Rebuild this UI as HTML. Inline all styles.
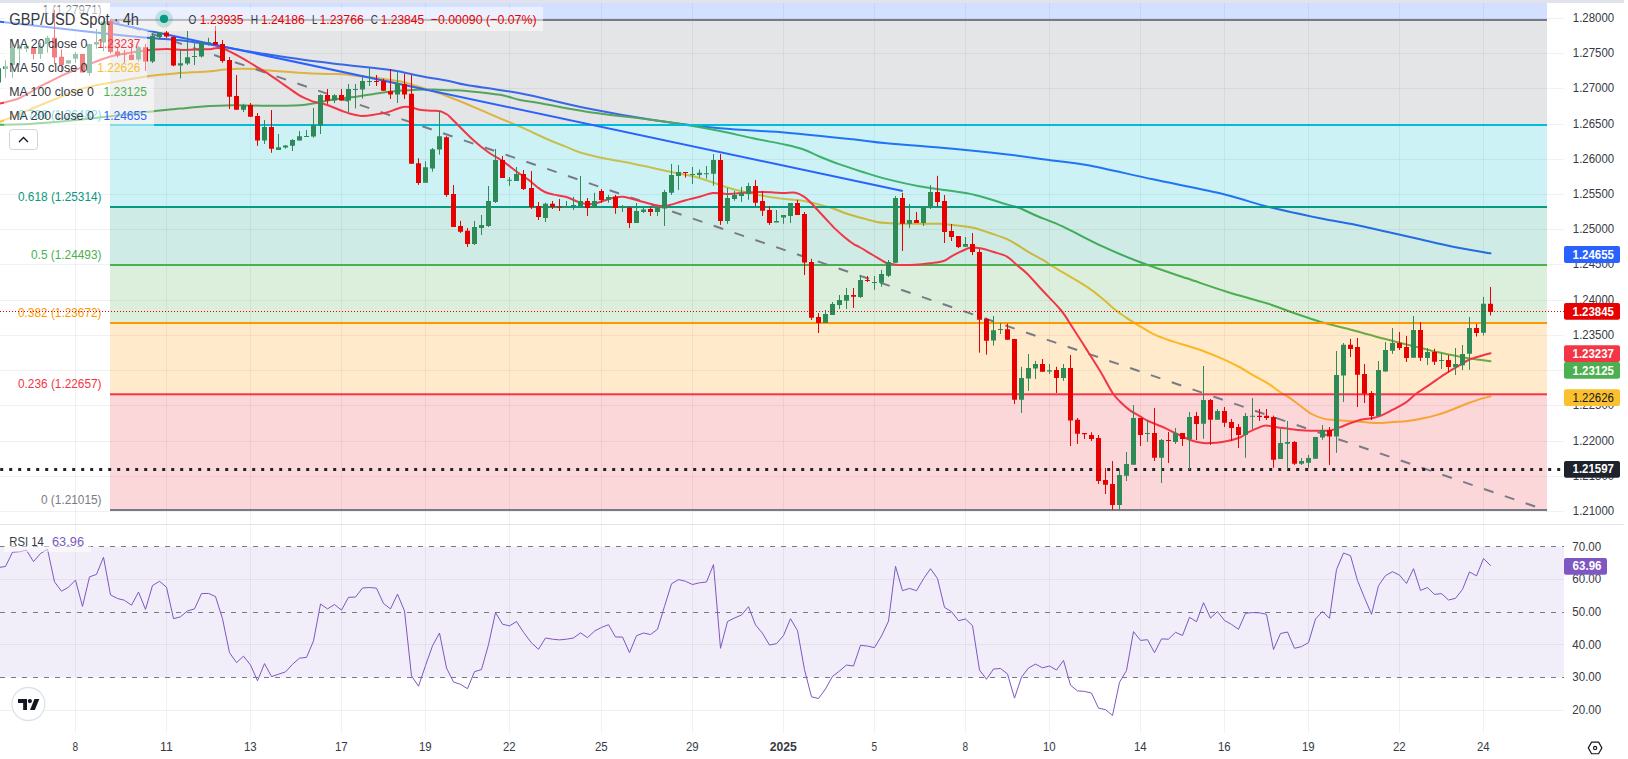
<!DOCTYPE html>
<html lang="en"><head><meta charset="utf-8"><title>GBP/USD Spot 4h</title>
<style>html,body{margin:0;padding:0;background:#fff}body{width:1628px;height:759px;overflow:hidden}svg{display:block}</style>
</head><body>
<svg width="1628" height="759" viewBox="0 0 1628 759" font-family='"Liberation Sans", Arial, sans-serif'>
<rect width="1628" height="759" fill="#fff"/>
<path d="M75.5 3V733 M166.5 3V733 M250.5 3V733 M341.5 3V733 M425.5 3V733 M509.5 3V733 M601.5 3V733 M692.5 3V733 M783.5 3V733 M874.5 3V733 M965.5 3V733 M1049.5 3V733 M1140.5 3V733 M1224.5 3V733 M1308.5 3V733 M1399.5 3V733 M1483.5 3V733 M0 18.5H1564 M0 53.5H1564 M0 88.5H1564 M0 124.5H1564 M0 159.5H1564 M0 194.5H1564 M0 229.5H1564 M0 264.5H1564 M0 300.5H1564 M0 335.5H1564 M0 370.5H1564 M0 405.5H1564 M0 441.5H1564 M0 476.5H1564 M0 511.5H1564 M0 579.5H1564 M0 644.5H1564 M0 710.5H1564" stroke="rgba(50,60,60,0.07)" stroke-width="1" fill="none"/>
<path d="M0.0 21.7C11.1 23.0 50.0 27.4 66.7 29.3C83.4 31.2 86.6 31.6 100.0 33.0C113.4 34.4 133.7 36.5 147.0 37.7C160.3 38.9 169.5 39.1 180.0 40.2C190.5 41.3 202.6 43.4 210.0 44.5C217.4 45.6 216.9 45.8 224.2 47.1C231.5 48.4 243.9 50.7 253.7 52.3C263.5 53.9 273.4 55.2 283.2 56.7C293.0 58.2 302.9 59.8 312.7 61.1C322.5 62.4 332.4 63.4 342.2 64.5C352.0 65.6 363.1 66.8 371.7 67.8C380.3 68.8 385.8 69.2 393.8 70.6C401.9 71.9 410.6 74.1 420.0 75.9C429.4 77.7 442.2 79.8 450.0 81.3C457.8 82.8 455.0 83.0 466.7 85.0C478.4 87.0 500.0 89.4 520.0 93.3C540.0 97.2 564.5 103.8 586.7 108.3C608.9 112.8 630.8 116.7 653.0 120.0C675.2 123.3 697.7 126.2 720.0 128.3C742.3 130.4 764.5 130.9 786.7 132.7C808.9 134.5 836.3 137.5 853.0 139.3C869.7 141.1 870.0 141.7 886.7 143.3C903.4 144.9 932.9 146.9 953.0 148.8C973.1 150.7 991.1 152.6 1007.6 154.5C1024.1 156.4 1038.7 158.8 1051.9 160.5C1065.1 162.2 1069.9 161.9 1086.7 165.0C1103.5 168.1 1130.8 174.6 1153.0 179.3C1175.2 184.0 1200.5 188.6 1220.0 193.3C1239.5 198.0 1253.3 203.1 1270.0 207.3C1286.7 211.5 1306.2 215.5 1320.0 218.3C1333.8 221.1 1341.9 222.1 1353.0 224.3C1364.1 226.5 1375.5 229.2 1386.7 231.7C1397.9 234.2 1409.0 236.8 1420.0 239.3C1431.0 241.8 1441.2 244.4 1453.0 246.7C1464.8 249.0 1484.2 252.2 1490.5 253.3" fill="none" stroke="#2962ff" stroke-width="2" stroke-linejoin="round" stroke-linecap="round"/>
<path d="M0.0 124.7C4.9 124.6 19.7 124.5 29.6 124.0C39.5 123.5 51.1 122.5 59.3 121.8C67.5 121.1 72.4 120.5 79.0 119.8C85.6 119.1 92.2 118.3 98.8 117.6C105.4 116.8 112.0 116.1 118.6 115.3C125.2 114.5 131.4 113.7 138.3 112.9C145.2 112.1 153.1 111.1 160.0 110.4C166.9 109.7 173.3 109.2 180.0 108.6C186.7 108.0 191.2 107.2 200.0 106.7C208.8 106.2 221.9 105.5 233.0 105.3C244.1 105.1 255.5 105.8 266.7 105.8C277.9 105.8 292.3 105.6 300.0 105.2C307.7 104.8 308.3 104.3 313.0 103.5C317.7 102.7 323.0 101.4 328.0 100.5C333.0 99.6 337.9 99.0 342.8 98.3C347.7 97.6 352.7 97.1 357.6 96.4C362.5 95.7 367.5 94.9 372.4 94.2C377.3 93.5 382.1 92.6 387.0 92.0C391.9 91.4 397.0 90.9 401.9 90.5C406.8 90.1 411.4 90.0 416.6 89.8C421.8 89.6 427.4 89.4 433.0 89.5C438.6 89.6 444.4 90.0 450.0 90.2C455.6 90.5 458.4 90.2 466.7 91.0C475.0 91.8 491.1 93.3 500.0 94.8C508.9 96.3 513.0 98.5 520.0 100.0C527.0 101.5 530.9 101.5 542.0 103.5C553.1 105.5 568.2 109.0 586.7 111.7C605.2 114.5 636.3 117.8 653.0 120.0C669.7 122.2 675.5 123.2 686.7 125.0C697.9 126.8 709.0 128.8 720.0 131.0C731.0 133.2 741.9 136.0 753.0 138.3C764.1 140.6 778.4 143.2 786.7 145.0C795.0 146.8 797.5 147.4 803.0 149.3C808.5 151.2 813.9 154.2 820.0 156.7C826.1 159.2 832.7 161.9 839.7 164.4C846.7 166.9 854.5 169.4 861.9 171.7C869.3 174.0 874.5 176.0 884.0 178.4C893.5 180.8 908.2 184.2 919.0 186.2C929.8 188.2 939.3 189.1 948.6 190.6C957.9 192.1 965.2 192.7 975.0 195.0C984.8 197.3 1000.1 202.4 1007.6 204.6C1015.1 206.8 1015.1 206.4 1020.0 208.3C1024.9 210.2 1029.8 212.9 1037.0 216.0C1044.2 219.1 1052.0 221.6 1063.0 226.7C1074.0 231.8 1089.7 240.6 1103.0 246.7C1116.3 252.8 1129.0 258.0 1143.0 263.3C1157.0 268.6 1172.8 273.6 1186.7 278.3C1200.7 283.0 1213.4 287.5 1226.7 291.7C1240.0 295.9 1255.7 299.8 1266.7 303.3C1277.8 306.8 1284.1 309.6 1293.0 312.7C1301.9 315.8 1310.5 318.9 1320.0 321.7C1329.5 324.5 1342.8 327.6 1350.0 329.5C1357.2 331.4 1358.3 331.7 1363.0 333.0C1367.7 334.3 1373.0 335.9 1378.0 337.2C1383.0 338.5 1387.9 339.7 1392.8 341.0C1397.7 342.3 1402.7 343.6 1407.6 344.8C1412.5 346.0 1417.1 347.1 1422.0 348.3C1426.9 349.5 1432.0 350.9 1437.0 352.0C1442.0 353.1 1447.0 354.0 1451.9 355.0C1456.8 356.0 1461.7 357.2 1466.6 358.0C1471.5 358.8 1477.4 359.4 1481.4 360.0C1485.4 360.6 1489.0 361.1 1490.5 361.3" fill="none" stroke="#4caf50" stroke-width="2" stroke-linejoin="round" stroke-linecap="round"/>
<path d="M0.0 121.8C3.3 120.5 13.2 116.6 19.8 113.9C26.4 111.2 32.9 108.2 39.5 105.5C46.1 102.8 52.7 100.2 59.3 97.5C65.9 94.8 72.4 91.7 79.0 89.6C85.6 87.5 92.2 86.1 98.8 84.7C105.4 83.3 112.0 82.4 118.6 81.2C125.2 80.0 131.4 78.9 138.3 77.8C145.2 76.7 153.9 75.5 160.0 74.8C166.1 74.1 169.7 73.8 175.0 73.4C180.3 73.0 186.1 72.7 191.9 72.3C197.7 71.9 204.5 71.8 210.0 71.3C215.5 70.8 219.9 70.0 224.8 69.6C229.7 69.2 234.6 68.8 239.5 68.7C244.4 68.6 249.4 68.7 254.3 69.0C259.2 69.3 261.6 70.0 269.0 70.6C276.4 71.2 288.8 72.2 298.6 72.8C308.4 73.4 320.6 73.8 328.0 74.0C335.4 74.2 337.9 74.0 342.8 74.3C347.7 74.6 352.7 75.5 357.6 76.0C362.5 76.5 367.5 76.9 372.4 77.5C377.3 78.1 382.1 78.7 387.0 79.4C391.9 80.1 397.0 80.6 401.9 81.7C406.8 82.8 411.7 84.5 416.6 86.0C421.5 87.5 426.5 88.9 431.4 90.5C436.3 92.1 440.1 93.5 446.0 95.7C451.9 98.0 457.7 100.2 466.7 104.0C475.7 107.8 491.1 114.5 500.0 118.3C508.9 122.1 511.8 123.1 520.0 126.7C528.2 130.3 541.6 136.7 549.2 140.0C556.8 143.3 560.3 144.5 565.5 146.6C570.7 148.7 574.1 150.6 580.2 152.5C586.4 154.4 595.0 156.4 602.4 158.0C609.8 159.6 617.1 160.6 624.5 162.0C631.9 163.4 639.0 165.0 646.6 166.6C654.2 168.2 662.4 170.1 670.0 171.7C677.6 173.3 684.7 174.2 692.0 176.0C699.3 177.8 707.8 180.8 714.0 182.8C720.2 184.8 724.0 186.5 729.0 188.0C734.0 189.5 738.9 190.5 743.8 191.7C748.7 192.8 753.7 193.9 758.6 194.9C763.5 195.9 768.1 196.9 773.0 197.6C777.9 198.3 783.0 198.8 788.0 199.3C793.0 199.8 797.9 200.0 802.8 200.8C807.7 201.6 812.7 203.0 817.6 204.2C822.5 205.4 827.1 206.4 832.0 208.0C836.9 209.6 842.0 212.1 847.0 213.8C852.0 215.5 857.0 216.7 861.9 218.0C866.8 219.3 872.0 221.0 876.6 221.9C881.2 222.8 885.6 222.9 889.5 223.2C893.4 223.5 895.1 223.6 900.0 223.7C904.9 223.8 912.2 223.8 919.0 223.8C925.8 223.8 934.7 223.5 941.0 223.8C947.3 224.1 951.8 224.9 957.0 225.5C962.2 226.1 966.5 226.2 972.0 227.5C977.5 228.8 984.1 231.0 990.0 233.0C995.9 235.0 1002.6 237.1 1007.6 239.4C1012.6 241.7 1016.3 244.4 1020.0 246.7C1023.7 248.9 1025.7 250.4 1030.0 252.9C1034.3 255.4 1042.2 259.5 1046.0 261.8C1049.8 264.1 1046.2 262.6 1053.0 266.7C1059.8 270.8 1078.2 281.1 1086.7 286.7C1095.2 292.2 1099.2 296.1 1104.0 300.0C1108.8 303.9 1111.9 307.1 1115.5 310.0C1119.1 312.9 1122.1 314.9 1125.8 317.4C1129.5 319.9 1133.2 322.1 1137.6 324.8C1142.0 327.5 1147.5 331.2 1152.4 333.6C1157.3 336.1 1162.1 337.7 1167.0 339.5C1171.9 341.3 1175.8 342.2 1181.9 344.2C1188.0 346.1 1196.6 348.6 1203.7 351.2C1210.8 353.8 1218.9 357.2 1224.8 359.8C1230.7 362.4 1234.5 364.4 1239.3 367.0C1244.1 369.6 1249.2 373.0 1253.8 375.6C1258.4 378.2 1262.6 380.1 1267.0 382.8C1271.4 385.5 1276.0 389.4 1280.0 392.0C1284.0 394.6 1287.4 396.4 1290.7 398.6C1294.0 400.9 1296.5 402.9 1300.0 405.5C1303.5 408.1 1307.8 411.8 1311.7 414.0C1315.6 416.2 1319.8 417.6 1323.5 418.6C1327.2 419.6 1329.6 419.6 1333.8 420.0C1338.0 420.4 1343.7 420.7 1348.6 421.0C1353.5 421.3 1358.1 421.7 1363.0 422.0C1367.9 422.3 1373.0 423.0 1378.0 423.0C1383.0 423.0 1387.9 422.3 1392.8 422.0C1397.7 421.7 1402.7 421.6 1407.6 421.0C1412.5 420.4 1417.1 419.6 1422.0 418.6C1426.9 417.6 1432.0 416.4 1437.0 414.9C1442.0 413.4 1447.0 411.5 1451.9 409.7C1456.8 407.9 1461.7 405.6 1466.6 403.8C1471.5 402.0 1477.4 399.8 1481.4 398.6C1485.4 397.4 1489.0 396.8 1490.5 396.4" fill="none" stroke="#fbc02d" stroke-width="2" stroke-linejoin="round" stroke-linecap="round"/>
<rect x="110" y="3" width="1437" height="17" fill="rgba(41,98,255,0.2)"/>
<rect x="110" y="20" width="1437" height="105" fill="rgba(120,123,134,0.2)"/>
<rect x="110" y="125" width="1437" height="82" fill="rgba(0,188,212,0.2)"/>
<rect x="110" y="207" width="1437" height="58" fill="rgba(8,153,129,0.2)"/>
<rect x="110" y="265" width="1437" height="58" fill="rgba(76,175,80,0.2)"/>
<rect x="110" y="323" width="1437" height="71.30000000000001" fill="rgba(255,152,0,0.2)"/>
<rect x="110" y="394.3" width="1437" height="115.69999999999999" fill="rgba(242,54,69,0.2)"/>
<rect x="110" y="19" width="1437" height="2" fill="#787b86"/>
<rect x="110" y="124" width="1437" height="2" fill="#00bcd4"/>
<rect x="110" y="206" width="1437" height="2" fill="#089981"/>
<rect x="110" y="264" width="1437" height="2" fill="#4caf50"/>
<rect x="110" y="322" width="1437" height="2" fill="#ff9800"/>
<rect x="110" y="393.3" width="1437" height="2" fill="#f23645"/>
<rect x="110" y="509" width="1437" height="2" fill="#787b86"/>
<line x1="110" y1="19.5" x2="1547" y2="510.5" stroke="#787b86" stroke-width="2" stroke-dasharray="10 12"/>
<text x="101.5" y="13.8" font-size="12" fill="#787b86" text-anchor="end" textLength="59.0" lengthAdjust="spacingAndGlyphs">1 (1.27971)</text>
<text x="101.5" y="119.0" font-size="12" fill="#00bcd4" text-anchor="end" textLength="83.5" lengthAdjust="spacingAndGlyphs">0.786 (1.26482)</text>
<text x="101.5" y="201.3" font-size="12" fill="#089981" text-anchor="end" textLength="83.5" lengthAdjust="spacingAndGlyphs">0.618 (1.25314)</text>
<text x="101.5" y="259.3" font-size="12" fill="#4caf50" text-anchor="end" textLength="70.5" lengthAdjust="spacingAndGlyphs">0.5 (1.24493)</text>
<text x="101.5" y="317.3" font-size="12" fill="#ff9800" text-anchor="end" textLength="83.5" lengthAdjust="spacingAndGlyphs">0.382 (1.23672)</text>
<text x="101.5" y="388.0" font-size="12" fill="#f23645" text-anchor="end" textLength="83.5" lengthAdjust="spacingAndGlyphs">0.236 (1.22657)</text>
<text x="101.5" y="504.1" font-size="12" fill="#787b86" text-anchor="end" textLength="60.5" lengthAdjust="spacingAndGlyphs">0 (1.21015)</text>
<line x1="110" y1="22.5" x2="902.8" y2="191" stroke="#2962ff" stroke-width="2" stroke-linecap="butt"/>
<path d="M0.0 103.5C1.7 103.1 6.7 101.9 10.0 101.0C13.3 100.1 16.5 99.4 19.8 98.0C23.1 96.6 26.7 94.4 30.0 92.5C33.3 90.6 36.2 88.5 39.5 86.7C42.8 84.9 46.7 83.2 50.0 81.5C53.3 79.8 56.0 78.4 59.3 76.8C62.6 75.2 66.7 73.4 70.0 72.0C73.3 70.6 75.7 69.7 79.0 68.4C82.3 67.1 86.5 65.4 90.0 64.0C93.5 62.6 95.5 61.5 100.0 60.0C104.5 58.5 109.5 56.5 116.7 55.0C123.9 53.5 134.7 51.7 143.0 50.7C151.3 49.7 160.0 49.1 166.7 49.0C173.4 48.9 177.4 50.0 183.0 50.0C188.6 50.0 195.5 49.4 200.0 49.3C204.5 49.2 207.1 49.4 210.0 49.2C212.9 49.0 214.9 48.0 217.4 48.0C219.9 48.0 221.1 47.8 224.8 49.2C228.5 50.6 234.6 53.9 239.5 56.6C244.4 59.3 249.4 62.5 254.3 65.4C259.2 68.4 264.1 71.1 269.0 74.3C273.9 77.5 278.9 81.2 283.8 84.6C288.7 88.0 294.9 92.6 298.6 94.9C302.3 97.2 303.6 97.5 306.0 98.6C308.4 99.7 310.9 100.9 313.3 101.6C315.8 102.3 318.2 102.4 320.7 103.0C323.1 103.6 325.5 104.4 328.0 105.3C330.5 106.2 333.0 107.2 335.5 108.2C338.0 109.2 340.4 110.3 342.8 111.2C345.2 112.1 347.7 113.1 350.2 113.8C352.7 114.5 355.6 114.9 357.6 115.3C359.6 115.7 359.5 116.0 362.0 115.9C364.5 115.8 368.2 115.5 372.4 114.9C376.6 114.3 383.3 113.3 387.0 112.4C390.7 111.5 392.0 110.6 394.5 109.7C397.0 108.8 399.9 107.7 401.9 107.2C403.9 106.7 404.6 106.8 406.3 106.8C408.0 106.8 410.0 107.0 412.2 107.5C414.4 108.0 416.4 109.2 419.6 109.7C422.8 110.2 427.9 110.5 431.4 110.7C434.8 111.0 437.9 110.7 440.3 111.2C442.7 111.8 444.4 113.0 446.0 114.0C447.6 115.0 445.5 112.7 450.0 117.0C454.5 121.3 466.8 134.1 473.2 140.0C479.6 145.9 483.9 149.1 488.7 152.5C493.5 155.9 497.3 157.5 502.0 160.7C506.7 163.9 512.4 168.5 516.8 171.7C521.2 174.9 525.2 177.3 528.6 179.9C532.0 182.5 534.7 185.2 537.4 187.2C540.1 189.2 542.1 190.8 544.8 192.0C547.5 193.2 550.2 193.8 553.7 194.6C557.2 195.4 561.3 195.6 565.5 196.8C569.7 198.0 575.0 200.8 578.7 202.0C582.4 203.2 584.6 204.0 587.6 204.2C590.6 204.4 593.5 203.9 596.5 203.2C599.5 202.5 602.3 201.1 605.3 200.2C608.2 199.3 611.2 198.2 614.2 197.6C617.2 197.0 620.0 196.6 623.0 196.8C626.0 197.0 628.4 197.8 631.9 198.7C635.4 199.6 639.3 200.8 643.7 202.0C648.1 203.2 654.8 205.1 658.5 205.7C662.2 206.3 663.9 205.8 665.8 205.7C667.7 205.6 666.8 205.9 670.0 205.0C673.2 204.1 679.9 201.9 684.8 200.5C689.7 199.1 694.8 198.1 699.5 196.8C704.2 195.6 707.9 193.5 712.8 193.0C717.7 192.5 723.8 193.9 729.0 193.9C734.2 193.9 738.9 193.1 743.8 192.8C748.7 192.5 753.7 192.1 758.6 192.0C763.5 191.9 768.8 192.2 773.0 192.4C777.2 192.6 780.0 192.9 783.7 193.0C787.5 193.1 792.1 192.2 795.5 192.8C798.9 193.4 801.6 195.0 804.3 196.8C807.0 198.6 809.5 201.3 811.7 203.5C813.9 205.7 815.4 207.6 817.6 210.0C819.8 212.4 822.1 214.9 825.0 218.0C827.9 221.1 831.8 225.5 835.0 228.6C838.2 231.7 840.9 234.1 844.0 236.7C847.1 239.3 850.9 242.3 853.5 244.0C856.1 245.7 856.2 245.2 859.4 247.0C862.6 248.8 868.3 252.4 872.7 255.0C877.1 257.6 882.6 261.3 886.0 262.8C889.4 264.3 890.8 263.8 893.3 264.2C895.8 264.6 897.0 264.9 900.7 265.0C904.4 265.1 910.6 265.0 915.5 264.7C920.4 264.4 925.5 263.8 930.2 263.2C934.9 262.6 939.8 262.2 943.5 261.0C947.2 259.8 949.4 257.4 952.4 255.8C955.4 254.2 958.2 252.8 961.2 251.4C964.2 250.0 967.5 248.1 970.7 247.6C973.9 247.1 976.6 247.6 980.4 248.3C984.2 249.0 989.3 250.6 993.7 252.0C998.1 253.4 1003.1 254.4 1007.0 256.6C1010.9 258.8 1014.0 262.6 1017.3 265.4C1020.6 268.2 1022.4 269.0 1026.7 273.3C1031.0 277.6 1037.3 284.9 1043.0 291.0C1048.7 297.1 1055.8 303.9 1060.8 310.0C1065.8 316.1 1068.5 321.3 1072.7 327.7C1076.9 334.1 1081.2 341.0 1085.9 348.4C1090.6 355.8 1096.3 364.6 1100.7 372.0C1105.1 379.4 1109.3 387.8 1112.5 392.7C1115.7 397.6 1117.0 398.6 1119.9 401.5C1122.8 404.4 1126.5 407.9 1130.0 410.4C1133.5 412.9 1137.6 414.8 1140.6 416.6C1143.6 418.4 1144.3 419.3 1148.0 421.0C1151.7 422.7 1157.9 424.8 1162.8 427.0C1167.7 429.2 1172.7 431.9 1177.6 434.2C1182.5 436.5 1188.0 439.2 1192.4 440.7C1196.8 442.2 1200.8 442.6 1204.0 443.0C1207.2 443.4 1208.5 443.2 1211.5 443.0C1214.5 442.8 1218.5 442.4 1221.9 441.9C1225.3 441.4 1228.8 440.8 1232.0 440.0C1235.2 439.2 1238.2 438.3 1241.0 437.0C1243.8 435.7 1245.5 433.8 1248.5 432.2C1251.5 430.6 1256.2 428.7 1259.0 427.6C1261.8 426.5 1262.9 425.5 1265.6 425.4C1268.2 425.3 1270.9 426.4 1274.9 427.0C1278.9 427.6 1284.7 428.3 1289.5 428.9C1294.3 429.5 1299.1 430.1 1304.0 430.4C1308.9 430.7 1314.5 430.8 1319.0 430.8C1323.5 430.8 1327.3 431.0 1330.8 430.4C1334.2 429.8 1336.2 428.7 1339.7 427.4C1343.2 426.1 1347.6 424.0 1351.5 422.7C1355.4 421.4 1359.9 420.0 1363.3 419.3C1366.7 418.6 1369.0 418.9 1372.0 418.3C1375.0 417.7 1377.5 417.0 1381.0 415.6C1384.5 414.2 1388.6 411.9 1392.8 409.7C1397.0 407.5 1402.0 405.0 1406.0 402.3C1410.0 399.6 1412.5 396.4 1416.5 393.5C1420.5 390.6 1425.0 387.8 1429.7 384.6C1434.4 381.4 1439.6 377.5 1444.5 374.3C1449.4 371.1 1455.1 367.9 1459.3 365.4C1463.5 362.9 1465.9 361.1 1469.6 359.5C1473.3 357.9 1477.9 356.8 1481.4 355.8C1484.9 354.8 1489.0 353.7 1490.5 353.3" fill="none" stroke="#f23645" stroke-width="2" stroke-linejoin="round" stroke-linecap="round"/>
<line x1="0.2" y1="469.5" x2="1564" y2="469.5" stroke="#1e222d" stroke-width="3" stroke-dasharray="3 6"/>
<path d="M-1.5 68.0V82.6M5.5 60.2V77.8M12.5 38.5V77.8M19.5 44.6V65.6M26.5 43.9V52.0M40.5 42.6V58.8M47.5 35.8V52.7M68.5 60.2V63.6M75.5 52.0V63.0M89.5 43.9V75.8M96.5 29.0V48.7M103.5 20.2V51.4M138.5 46.0V61.6M152.5 33.0V63.0M159.5 32.4V39.2M180.5 49.3V78.5M187.5 31.0V65.0M194.5 42.6V65.0M201.5 42.2V57.5M208.5 37.8V45.5M243.5 103.8V112.0M264.5 120.0V144.0M278.5 134.0V150.0M285.5 145.0V148.7M292.5 139.0V151.0M299.5 131.0V140.6M306.5 130.0V137.0M313.5 108.0V137.6M320.5 94.2V134.0M334.5 94.2V103.0M348.5 83.9V112.0M355.5 83.9V108.5M362.5 77.2V98.6M369.5 68.0V86.0M397.5 72.0V103.0M425.5 161.3V182.7M432.5 148.0V171.6M439.5 111.0V154.6M474.5 220.9V245.0M481.5 215.0V235.0M488.5 186.0V227.0M495.5 149.0V203.0M509.5 177.0V185.8M516.5 167.0V180.9M545.5 202.7V222.0M566.5 201.0V207.4M573.5 196.8V210.0M580.5 175.9V206.4M594.5 192.8V207.6M608.5 194.9V202.7M622.5 205.0V212.0M636.5 203.0V223.0M643.5 206.4V213.0M657.5 206.0V216.0M664.5 189.9V226.0M671.5 163.9V194.9M678.5 165.0V189.9M692.5 167.0V184.0M699.5 169.5V177.6M706.5 166.0V178.7M713.5 154.0V185.8M727.5 188.0V223.8M734.5 190.9V200.8M741.5 186.9V202.0M748.5 182.8V199.8M776.5 210.0V222.4M783.5 215.0V223.8M790.5 203.0V223.0M825.5 310.0V323.0M832.5 302.0V314.9M839.5 295.0V309.0M846.5 288.0V309.0M860.5 275.0V298.0M874.5 276.0V289.8M881.5 269.9V286.8M888.5 260.0V277.0M895.5 196.0V262.8M909.5 203.9V228.0M923.5 206.0V226.0M930.5 185.0V209.0M965.5 237.0V246.7M993.5 316.0V345.6M1000.5 323.0V334.0M1021.5 366.8V413.0M1028.5 354.0V390.9M1035.5 360.9V379.0M1049.5 364.0V373.8M1063.5 364.0V380.8M1119.5 469.0V510.5M1126.5 452.0V481.0M1133.5 405.0V464.8M1147.5 419.8V441.9M1161.5 439.0V483.0M1175.5 427.9V444.0M1189.5 411.9V470.0M1203.5 366.0V438.8M1217.5 409.0V419.8M1245.5 413.0V457.8M1252.5 398.0V429.0M1280.5 428.8V459.0M1287.5 421.0V469.0M1301.5 458.0V465.0M1308.5 454.9V467.9M1315.5 436.9V459.0M1322.5 425.0V439.9M1336.5 351.0V452.8M1343.5 343.0V402.0M1378.5 361.0V416.0M1385.5 342.0V371.8M1392.5 328.0V353.9M1413.5 316.0V357.8M1427.5 348.0V365.0M1441.5 353.0V369.0M1455.5 348.0V375.0M1462.5 345.0V370.0M1469.5 317.0V369.8M1483.5 296.9V335.5" stroke="#2e8b57" stroke-width="1" fill="none"/>
<path d="M33.5 48.0V59.5M54.5 10.0V64.3M61.5 49.3V72.4M82.5 54.1V72.4M110.5 19.5V53.4M117.5 46.6V57.5M124.5 50.0V63.0M131.5 43.9V60.2M145.5 43.9V71.0M166.5 31.0V37.8M173.5 36.5V66.3M215.5 26.0V44.7M222.5 40.0V62.8M229.5 57.0V109.0M236.5 75.0V109.7M250.5 103.0V116.8M257.5 113.0V145.8M271.5 110.0V152.8M327.5 89.0V103.8M341.5 89.0V100.8M376.5 75.0V86.0M383.5 78.7V90.8M390.5 69.0V99.0M404.5 73.8V99.0M411.5 75.0V163.8M418.5 158.3V184.9M446.5 136.2V196.8M453.5 185.0V227.0M460.5 220.9V233.0M467.5 228.0V247.0M502.5 156.0V178.0M523.5 170.0V190.0M531.5 171.0V209.0M538.5 202.0V220.0M552.5 201.0V209.0M559.5 199.0V211.0M587.5 198.0V216.0M601.5 189.0V202.7M615.5 194.9V213.8M629.5 206.7V228.0M650.5 206.7V216.0M685.5 172.0V177.6M720.5 154.0V224.9M755.5 179.9V206.0M762.5 190.9V216.0M769.5 206.0V224.9M797.5 199.8V215.0M804.5 212.0V275.0M811.5 258.8V320.0M818.5 313.0V333.0M853.5 288.0V308.0M867.5 276.0V282.0M902.5 192.8V251.0M916.5 212.0V223.0M937.5 175.8V206.8M944.5 195.0V243.0M951.5 224.0V241.0M958.5 236.0V248.0M972.5 233.0V255.0M979.5 249.0V352.7M986.5 317.8V354.7M1007.5 323.7V339.7M1014.5 338.8V404.0M1042.5 359.0V371.7M1056.5 366.8V393.0M1070.5 355.0V446.0M1077.5 418.0V444.0M1084.5 433.0V439.0M1091.5 432.3V441.0M1098.5 435.0V484.0M1105.5 468.0V494.0M1112.5 461.0V509.8M1140.5 418.0V446.0M1154.5 408.0V461.0M1168.5 432.0V463.0M1182.5 433.0V446.0M1196.5 411.9V440.0M1210.5 399.0V444.9M1224.5 407.0V427.0M1231.5 419.0V441.0M1238.5 423.9V448.0M1259.5 409.0V421.0M1266.5 409.0V420.0M1273.5 415.6V467.9M1294.5 441.0V465.0M1329.5 427.0V465.0M1350.5 338.9V357.0M1357.5 338.0V407.0M1364.5 364.0V403.0M1371.5 391.0V420.0M1399.5 332.0V350.0M1406.5 335.9V362.0M1420.5 322.0V361.0M1434.5 348.7V365.0M1448.5 355.0V372.5M1476.5 324.0V336.5M1490.5 287.0V315.5" stroke="#e60000" stroke-width="1" fill="none"/>
<path d="M-4 68.3h5V82.6h-5zM3 66.3h5V69.0h-5zM10 48.0h5V65.0h-5zM17 47.3h5V49.3h-5zM24 46.0h5V48.7h-5zM38 46.0h5V54.1h-5zM45 37.8h5V43.9h-5zM66 60.2h5V63.6h-5zM73 54.1h5V58.8h-5zM87 43.9h5V73.1h-5zM94 41.9h5V44.6h-5zM101 21.5h5V42.6h-5zM136 47.3h5V59.5h-5zM150 35.8h5V61.6h-5zM157 32.4h5V36.9h-5zM178 63.2h5V65.6h-5zM185 57.2h5V63.6h-5zM192 56.1h5V57.1h-5zM199 42.2h5V56.4h-5zM206 42.3h5V43.3h-5zM241 105.0h5V109.7h-5zM262 127.0h5V140.6h-5zM276 147.2h5V150.0h-5zM283 145.5h5V147.5h-5zM290 140.0h5V145.8h-5zM297 136.2h5V140.6h-5zM304 136.0h5V137.0h-5zM311 125.0h5V136.6h-5zM318 95.0h5V125.5h-5zM332 95.2h5V100.5h-5zM346 89.0h5V100.5h-5zM353 89.0h5V90.0h-5zM360 80.9h5V89.5h-5zM367 80.9h5V81.9h-5zM395 83.0h5V94.6h-5zM423 167.2h5V182.7h-5zM430 149.2h5V168.6h-5zM437 136.2h5V149.4h-5zM472 227.0h5V244.0h-5zM479 225.0h5V228.0h-5zM486 201.0h5V226.0h-5zM493 160.0h5V202.0h-5zM507 179.8h5V180.8h-5zM514 174.0h5V180.9h-5zM543 203.8h5V218.0h-5zM564 206.4h5V207.4h-5zM571 205.0h5V206.4h-5zM578 201.0h5V206.4h-5zM592 201.0h5V207.6h-5zM606 197.0h5V199.8h-5zM620 206.7h5V207.7h-5zM634 211.0h5V223.0h-5zM641 209.4h5V212.0h-5zM655 207.0h5V211.9h-5zM662 192.0h5V208.6h-5zM669 175.0h5V192.8h-5zM676 172.0h5V175.9h-5zM690 174.0h5V175.0h-5zM697 172.8h5V175.0h-5zM704 173.2h5V174.2h-5zM711 160.0h5V173.7h-5zM725 198.0h5V220.9h-5zM732 194.9h5V199.0h-5zM739 193.0h5V196.0h-5zM746 186.0h5V193.9h-5zM774 221.0h5V222.4h-5zM781 215.0h5V217.5h-5zM788 203.0h5V216.0h-5zM823 314.0h5V323.0h-5zM830 304.0h5V314.9h-5zM837 300.0h5V305.0h-5zM844 295.0h5V300.8h-5zM858 280.0h5V297.0h-5zM872 282.0h5V283.0h-5zM879 274.0h5V282.8h-5zM886 262.0h5V275.8h-5zM893 198.0h5V262.8h-5zM907 220.0h5V223.8h-5zM921 206.0h5V223.0h-5zM928 192.0h5V206.8h-5zM963 244.0h5V246.7h-5zM991 330.3h5V340.6h-5zM998 329.0h5V330.0h-5zM1019 378.0h5V399.7h-5zM1026 368.0h5V378.6h-5zM1033 364.0h5V368.6h-5zM1047 370.3h5V371.5h-5zM1061 368.0h5V377.9h-5zM1117 475.0h5V505.0h-5zM1124 464.0h5V475.8h-5zM1131 418.0h5V464.8h-5zM1145 433.0h5V434.0h-5zM1159 440.0h5V457.8h-5zM1173 433.0h5V441.9h-5zM1187 417.0h5V439.0h-5zM1201 400.0h5V423.8h-5zM1215 410.9h5V419.8h-5zM1243 416.0h5V435.0h-5zM1250 415.7h5V416.8h-5zM1278 443.0h5V459.0h-5zM1285 442.0h5V443.8h-5zM1299 461.0h5V463.8h-5zM1306 458.0h5V462.7h-5zM1313 436.9h5V458.7h-5zM1320 430.0h5V437.6h-5zM1334 375.0h5V436.6h-5zM1341 344.8h5V375.6h-5zM1376 370.0h5V416.0h-5zM1383 349.9h5V371.6h-5zM1390 343.0h5V350.7h-5zM1411 330.0h5V357.8h-5zM1425 352.0h5V358.0h-5zM1439 360.0h5V361.0h-5zM1453 364.0h5V367.0h-5zM1460 354.0h5V365.2h-5zM1467 328.0h5V353.8h-5zM1481 303.7h5V332.7h-5z" fill="#2e8b57"/>
<path d="M31 48.0h5V54.1h-5zM52 37.8h5V57.5h-5zM59 56.8h5V65.0h-5zM80 54.1h5V72.4h-5zM108 20.9h5V52.0h-5zM115 51.4h5V55.5h-5zM122 53.5h5V54.5h-5zM129 54.8h5V60.0h-5zM143 47.3h5V61.6h-5zM164 32.4h5V36.5h-5zM171 37.1h5V65.6h-5zM213 42.0h5V44.7h-5zM220 44.0h5V61.0h-5zM227 60.0h5V96.7h-5zM234 96.1h5V109.7h-5zM248 105.0h5V116.8h-5zM255 116.0h5V140.6h-5zM269 127.0h5V148.7h-5zM325 95.0h5V100.8h-5zM339 95.0h5V100.5h-5zM374 81.0h5V82.0h-5zM381 80.9h5V90.8h-5zM388 91.2h5V94.6h-5zM402 83.9h5V94.6h-5zM409 93.8h5V163.8h-5zM416 163.2h5V183.0h-5zM444 137.2h5V194.9h-5zM451 193.9h5V227.0h-5zM458 226.0h5V231.8h-5zM465 230.8h5V244.0h-5zM500 160.0h5V178.0h-5zM521 174.0h5V189.0h-5zM529 188.0h5V207.0h-5zM536 206.0h5V217.0h-5zM550 203.8h5V207.0h-5zM557 206.4h5V207.6h-5zM585 201.0h5V207.9h-5zM599 190.9h5V200.0h-5zM613 196.8h5V207.9h-5zM627 207.6h5V223.0h-5zM648 209.0h5V211.9h-5zM683 172.0h5V173.0h-5zM718 160.0h5V220.9h-5zM753 186.0h5V202.7h-5zM760 201.0h5V210.8h-5zM767 210.0h5V223.0h-5zM795 203.0h5V215.0h-5zM802 214.0h5V262.5h-5zM809 262.0h5V317.8h-5zM816 317.0h5V323.0h-5zM851 295.0h5V296.7h-5zM865 280.0h5V281.0h-5zM900 198.0h5V223.8h-5zM914 220.0h5V223.0h-5zM935 192.0h5V202.0h-5zM942 201.0h5V231.9h-5zM949 230.9h5V237.0h-5zM956 236.0h5V247.0h-5zM970 244.0h5V252.0h-5zM977 252.0h5V319.8h-5zM984 319.0h5V340.8h-5zM1005 329.2h5V339.7h-5zM1012 339.0h5V399.7h-5zM1040 364.0h5V371.7h-5zM1054 370.0h5V377.9h-5zM1068 368.0h5V420.6h-5zM1075 419.8h5V433.8h-5zM1082 433.0h5V434.2h-5zM1089 435.0h5V439.0h-5zM1096 437.9h5V481.0h-5zM1103 480.0h5V484.7h-5zM1110 484.0h5V505.0h-5zM1138 418.0h5V435.0h-5zM1152 433.0h5V457.8h-5zM1166 440.0h5V441.0h-5zM1180 433.0h5V439.0h-5zM1194 416.0h5V423.9h-5zM1208 400.0h5V419.8h-5zM1222 410.9h5V422.7h-5zM1229 422.0h5V427.9h-5zM1236 427.0h5V435.0h-5zM1257 415.7h5V416.9h-5zM1264 415.7h5V418.0h-5zM1271 417.0h5V459.8h-5zM1292 442.0h5V463.8h-5zM1327 430.0h5V436.6h-5zM1348 344.8h5V348.9h-5zM1355 347.0h5V374.8h-5zM1362 374.0h5V393.8h-5zM1369 393.0h5V416.0h-5zM1397 343.0h5V348.0h-5zM1404 347.0h5V358.0h-5zM1418 330.0h5V357.8h-5zM1432 352.0h5V361.7h-5zM1446 360.0h5V367.0h-5zM1474 328.0h5V333.0h-5zM1488 303.7h5V312.0h-5z" fill="#e60000"/>
<line x1="0" y1="311.5" x2="1564" y2="311.5" stroke="#e60000" stroke-width="1" stroke-dasharray="1 2"/>
<rect x="0" y="0" width="1624" height="3" fill="#e0e3eb"/>
<rect x="0" y="524" width="1624" height="1" fill="#e0e3eb"/>
<rect x="0" y="546.7" width="1564" height="130.8" fill="rgba(126,87,194,0.1)"/>
<line x1="0" y1="546.5" x2="1564" y2="546.5" stroke="#787b86" stroke-width="1" stroke-dasharray="5 6"/>
<line x1="0" y1="612.5" x2="1564" y2="612.5" stroke="#787b86" stroke-width="1" stroke-dasharray="5 6"/>
<line x1="0" y1="677.5" x2="1564" y2="677.5" stroke="#787b86" stroke-width="1" stroke-dasharray="5 6"/>
<polyline points="-1.5,567.5 5.5,566.5 12.5,552.2 19.5,551.7 26.5,550.3 33.5,561.6 40.5,553.5 47.5,549.3 54.5,581.8 61.5,591.2 68.5,587.2 75.5,580.1 82.5,606.4 89.5,576.9 96.5,574.4 103.5,557.2 110.5,594.9 117.5,598.5 124.5,600.3 131.5,605.2 138.5,592.1 145.5,609.4 152.5,585.5 159.5,581.3 166.5,587.2 173.5,618.7 180.5,616.8 187.5,610.9 194.5,608.9 201.5,593.6 208.5,593.4 215.5,596.6 222.5,618.7 229.5,652.7 236.5,662.6 243.5,656.2 250.5,665.0 257.5,680.8 264.5,663.6 271.5,676.6 278.5,674.2 285.5,671.9 292.5,664.3 299.5,658.2 306.5,657.4 313.5,640.9 320.5,604.0 327.5,608.9 334.5,604.5 341.5,610.1 348.5,597.3 355.5,597.1 362.5,588.0 369.5,587.5 376.5,588.2 383.5,603.5 390.5,608.9 397.5,594.1 404.5,610.9 411.5,675.9 418.5,686.2 425.5,665.5 432.5,645.8 439.5,633.0 446.5,668.0 453.5,682.0 460.5,684.3 467.5,688.7 474.5,671.7 481.5,669.5 488.5,644.6 495.5,612.6 502.5,624.2 509.5,625.9 516.5,621.5 523.5,632.3 531.5,642.9 538.5,649.3 545.5,638.0 552.5,639.2 559.5,639.9 566.5,639.2 573.5,638.0 580.5,632.8 587.5,637.7 594.5,631.1 601.5,627.4 608.5,624.7 615.5,637.0 622.5,637.0 629.5,652.7 636.5,635.7 643.5,633.0 650.5,634.5 657.5,629.3 664.5,606.4 671.5,583.8 678.5,579.6 685.5,581.3 692.5,584.5 699.5,582.8 706.5,582.0 713.5,564.6 720.5,648.3 727.5,621.5 734.5,618.0 741.5,615.0 748.5,606.7 755.5,624.9 762.5,633.3 769.5,645.1 776.5,643.6 783.5,635.5 790.5,618.7 797.5,630.6 804.5,669.7 811.5,696.8 818.5,698.5 825.5,688.9 832.5,676.4 839.5,671.0 846.5,665.0 853.5,666.0 860.5,645.3 867.5,646.1 874.5,647.6 881.5,636.0 888.5,621.2 895.5,566.3 902.5,590.7 909.5,588.4 916.5,590.7 923.5,578.8 930.5,568.7 937.5,578.6 944.5,607.4 951.5,611.6 958.5,620.7 965.5,619.0 972.5,625.6 979.5,670.0 986.5,679.3 993.5,669.0 1000.5,668.5 1007.5,673.9 1014.5,698.1 1021.5,677.1 1028.5,668.0 1035.5,664.1 1042.5,667.8 1049.5,666.0 1056.5,670.0 1063.5,660.4 1070.5,685.2 1077.5,690.9 1084.5,691.4 1091.5,693.1 1098.5,708.2 1105.5,709.6 1112.5,715.5 1119.5,682.3 1126.5,670.5 1133.5,631.6 1140.5,640.4 1147.5,639.7 1154.5,652.7 1161.5,638.9 1168.5,639.2 1175.5,632.3 1182.5,635.5 1189.5,617.3 1196.5,621.7 1203.5,602.7 1210.5,618.0 1217.5,611.6 1224.5,620.5 1231.5,624.4 1238.5,629.3 1245.5,613.3 1252.5,612.6 1259.5,612.8 1266.5,614.3 1273.5,649.5 1280.5,633.5 1287.5,632.0 1294.5,648.3 1301.5,646.6 1308.5,642.6 1315.5,619.0 1322.5,611.4 1329.5,618.3 1336.5,569.5 1343.5,553.0 1350.5,555.7 1357.5,580.6 1364.5,597.8 1371.5,614.3 1378.5,585.7 1385.5,575.6 1392.5,571.7 1399.5,575.1 1406.5,583.5 1413.5,568.7 1420.5,590.4 1427.5,587.5 1434.5,594.4 1441.5,593.6 1448.5,600.0 1455.5,598.3 1462.5,589.4 1469.5,571.9 1476.5,575.9 1483.5,558.6 1490.5,565.5" fill="none" stroke="#7e57c2" stroke-width="1" stroke-linejoin="round" stroke-linecap="round"/>
<rect x="4" y="7" width="539" height="24" fill="rgba(255,255,255,0.5)"/>
<rect x="4" y="31" width="143" height="48" fill="rgba(255,255,255,0.5)"/>
<rect x="4" y="79" width="150" height="47" fill="rgba(255,255,255,0.5)"/>
<text x="9.3" y="24.6" font-size="16" fill="#363a45" textLength="129.7" lengthAdjust="spacingAndGlyphs">GBP/USD Spot · 4h</text>
<circle cx="164" cy="18.9" r="8.8" fill="rgba(8,153,129,0.2)"/><circle cx="164" cy="18.9" r="4.1" fill="#089981"/>
<text x="188.6" y="23.6" font-size="13" fill="#363a45" textLength="7.8" lengthAdjust="spacingAndGlyphs">O</text>
<text x="199.8" y="23.6" font-size="13" fill="#e60000" textLength="43.8" lengthAdjust="spacingAndGlyphs">1.23935</text>
<text x="250.7" y="23.6" font-size="13" fill="#363a45" textLength="7.3" lengthAdjust="spacingAndGlyphs">H</text>
<text x="260.9" y="23.6" font-size="13" fill="#e60000" textLength="43.9" lengthAdjust="spacingAndGlyphs">1.24186</text>
<text x="311.9" y="23.6" font-size="13" fill="#363a45" textLength="5.4" lengthAdjust="spacingAndGlyphs">L</text>
<text x="319.5" y="23.6" font-size="13" fill="#e60000" textLength="44.3" lengthAdjust="spacingAndGlyphs">1.23766</text>
<text x="370.7" y="23.6" font-size="13" fill="#363a45" textLength="7.1" lengthAdjust="spacingAndGlyphs">C</text>
<text x="380.7" y="23.6" font-size="13" fill="#e60000" textLength="43.5" lengthAdjust="spacingAndGlyphs">1.23845</text>
<text x="430.7" y="23.6" font-size="13" fill="#e60000" textLength="105.9" lengthAdjust="spacingAndGlyphs">−0.00090 (−0.07%)</text>
<text x="9.3" y="48.0" font-size="13" fill="#363a45" textLength="78.2" lengthAdjust="spacingAndGlyphs">MA 20 close 0</text>
<text x="97.3" y="48.0" font-size="13" fill="#f23645" textLength="43.2" lengthAdjust="spacingAndGlyphs">1.23237</text>
<text x="9.3" y="72.0" font-size="13" fill="#363a45" textLength="78.2" lengthAdjust="spacingAndGlyphs">MA 50 close 0</text>
<text x="97.3" y="72.0" font-size="13" fill="#fbc02d" textLength="43.2" lengthAdjust="spacingAndGlyphs">1.22626</text>
<text x="9.3" y="96.0" font-size="13" fill="#363a45" textLength="84.5" lengthAdjust="spacingAndGlyphs">MA 100 close 0</text>
<text x="103.6" y="96.0" font-size="13" fill="#4caf50" textLength="43.2" lengthAdjust="spacingAndGlyphs">1.23125</text>
<text x="9.3" y="120.0" font-size="13" fill="#363a45" textLength="84.5" lengthAdjust="spacingAndGlyphs">MA 200 close 0</text>
<text x="103.6" y="120.0" font-size="13" fill="#2962ff" textLength="43.2" lengthAdjust="spacingAndGlyphs">1.24655</text>
<rect x="9.5" y="129.5" width="28" height="20" rx="3" fill="#fff" stroke="#d1d4dc"/>
<path d="M19 142l4.5-4.5 4.5 4.5" stroke="#131722" stroke-width="1.4" fill="none"/>
<rect x="4" y="532" width="87" height="20" fill="rgba(255,255,255,0.5)"/>
<text x="9.3" y="546.0" font-size="13" fill="#363a45" textLength="34.5" lengthAdjust="spacingAndGlyphs">RSI 14</text>
<text x="52.0" y="546.0" font-size="13" fill="#7e57c2" textLength="32.0" lengthAdjust="spacingAndGlyphs">63.96</text>
<text x="1572.8" y="21.9" font-size="12" fill="#363a45" textLength="41.3" lengthAdjust="spacingAndGlyphs">1.28000</text>
<text x="1572.8" y="57.1" font-size="12" fill="#363a45" textLength="41.3" lengthAdjust="spacingAndGlyphs">1.27500</text>
<text x="1572.8" y="92.3" font-size="12" fill="#363a45" textLength="41.3" lengthAdjust="spacingAndGlyphs">1.27000</text>
<text x="1572.8" y="127.5" font-size="12" fill="#363a45" textLength="41.3" lengthAdjust="spacingAndGlyphs">1.26500</text>
<text x="1572.8" y="162.8" font-size="12" fill="#363a45" textLength="41.3" lengthAdjust="spacingAndGlyphs">1.26000</text>
<text x="1572.8" y="198.0" font-size="12" fill="#363a45" textLength="41.3" lengthAdjust="spacingAndGlyphs">1.25500</text>
<text x="1572.8" y="233.2" font-size="12" fill="#363a45" textLength="41.3" lengthAdjust="spacingAndGlyphs">1.25000</text>
<text x="1572.8" y="268.4" font-size="12" fill="#363a45" textLength="41.3" lengthAdjust="spacingAndGlyphs">1.24500</text>
<text x="1572.8" y="303.6" font-size="12" fill="#363a45" textLength="41.3" lengthAdjust="spacingAndGlyphs">1.24000</text>
<text x="1572.8" y="338.8" font-size="12" fill="#363a45" textLength="41.3" lengthAdjust="spacingAndGlyphs">1.23500</text>
<text x="1572.8" y="374.0" font-size="12" fill="#363a45" textLength="41.3" lengthAdjust="spacingAndGlyphs">1.23000</text>
<text x="1572.8" y="409.3" font-size="12" fill="#363a45" textLength="41.3" lengthAdjust="spacingAndGlyphs">1.22500</text>
<text x="1572.8" y="444.5" font-size="12" fill="#363a45" textLength="41.3" lengthAdjust="spacingAndGlyphs">1.22000</text>
<text x="1572.8" y="479.7" font-size="12" fill="#363a45" textLength="41.3" lengthAdjust="spacingAndGlyphs">1.21500</text>
<text x="1572.8" y="514.9" font-size="12" fill="#363a45" textLength="41.3" lengthAdjust="spacingAndGlyphs">1.21000</text>
<text x="1572.3" y="550.6" font-size="12" fill="#363a45" textLength="28.9" lengthAdjust="spacingAndGlyphs">70.00</text>
<text x="1572.3" y="583.3" font-size="12" fill="#363a45" textLength="28.9" lengthAdjust="spacingAndGlyphs">60.00</text>
<text x="1572.3" y="616.0" font-size="12" fill="#363a45" textLength="28.9" lengthAdjust="spacingAndGlyphs">50.00</text>
<text x="1572.3" y="648.7" font-size="12" fill="#363a45" textLength="28.9" lengthAdjust="spacingAndGlyphs">40.00</text>
<text x="1572.3" y="681.4" font-size="12" fill="#363a45" textLength="28.9" lengthAdjust="spacingAndGlyphs">30.00</text>
<text x="1572.3" y="714.1" font-size="12" fill="#363a45" textLength="28.9" lengthAdjust="spacingAndGlyphs">20.00</text>
<rect x="1564" y="246.1" width="56" height="16.8" rx="2" fill="#2962ff"/>
<text x="1572.6" y="258.6" font-size="12" fill="#fff" font-weight="bold" textLength="41.3" lengthAdjust="spacingAndGlyphs">1.24655</text>
<rect x="1564" y="303.0" width="56" height="16.8" rx="2" fill="#e60000"/>
<text x="1572.6" y="315.5" font-size="12" fill="#fff" font-weight="bold" textLength="41.3" lengthAdjust="spacingAndGlyphs">1.23845</text>
<rect x="1564" y="345.2" width="56" height="16.8" rx="2" fill="#f23645"/>
<text x="1572.6" y="357.7" font-size="12" fill="#fff" font-weight="bold" textLength="41.3" lengthAdjust="spacingAndGlyphs">1.23237</text>
<rect x="1564" y="362.0" width="56" height="16.8" rx="2" fill="#4caf50"/>
<text x="1572.6" y="374.5" font-size="12" fill="#fff" font-weight="bold" textLength="41.3" lengthAdjust="spacingAndGlyphs">1.23125</text>
<rect x="1564" y="389.2" width="56" height="16.8" rx="2" fill="#fbc02d"/>
<text x="1572.6" y="401.7" font-size="12" fill="#131722" textLength="41.3" lengthAdjust="spacingAndGlyphs">1.22626</text>
<rect x="1564" y="460.9" width="56" height="16.8" rx="2" fill="#1e222d"/>
<text x="1572.6" y="473.4" font-size="12" fill="#fff" font-weight="bold" textLength="41.3" lengthAdjust="spacingAndGlyphs">1.21597</text>
<rect x="1564" y="557.9" width="43" height="16.8" rx="2" fill="#7e57c2"/>
<text x="1572.6" y="570.4" font-size="12" fill="#fff" font-weight="bold" textLength="28.9" lengthAdjust="spacingAndGlyphs">63.96</text>
<text x="72.5" y="751.2" font-size="12.5" fill="#363a45" textLength="5.6" lengthAdjust="spacingAndGlyphs">8</text>
<text x="160.0" y="751.2" font-size="12.5" fill="#363a45" textLength="12.7" lengthAdjust="spacingAndGlyphs">11</text>
<text x="244.0" y="751.2" font-size="12.5" fill="#363a45" textLength="12.7" lengthAdjust="spacingAndGlyphs">13</text>
<text x="334.9" y="751.2" font-size="12.5" fill="#363a45" textLength="12.7" lengthAdjust="spacingAndGlyphs">17</text>
<text x="418.9" y="751.2" font-size="12.5" fill="#363a45" textLength="12.7" lengthAdjust="spacingAndGlyphs">19</text>
<text x="502.9" y="751.2" font-size="12.5" fill="#363a45" textLength="12.7" lengthAdjust="spacingAndGlyphs">22</text>
<text x="594.9" y="751.2" font-size="12.5" fill="#363a45" textLength="12.7" lengthAdjust="spacingAndGlyphs">25</text>
<text x="685.9" y="751.2" font-size="12.5" fill="#363a45" textLength="12.7" lengthAdjust="spacingAndGlyphs">29</text>
<text x="769.8" y="751.2" font-size="12.5" fill="#363a45" font-weight="bold" textLength="27.0" lengthAdjust="spacingAndGlyphs">2025</text>
<text x="871.5" y="751.2" font-size="12.5" fill="#363a45" textLength="5.6" lengthAdjust="spacingAndGlyphs">5</text>
<text x="962.5" y="751.2" font-size="12.5" fill="#363a45" textLength="5.6" lengthAdjust="spacingAndGlyphs">8</text>
<text x="1043.0" y="751.2" font-size="12.5" fill="#363a45" textLength="12.7" lengthAdjust="spacingAndGlyphs">10</text>
<text x="1134.0" y="751.2" font-size="12.5" fill="#363a45" textLength="12.7" lengthAdjust="spacingAndGlyphs">14</text>
<text x="1218.0" y="751.2" font-size="12.5" fill="#363a45" textLength="12.7" lengthAdjust="spacingAndGlyphs">16</text>
<text x="1302.0" y="751.2" font-size="12.5" fill="#363a45" textLength="12.7" lengthAdjust="spacingAndGlyphs">19</text>
<text x="1393.0" y="751.2" font-size="12.5" fill="#363a45" textLength="12.7" lengthAdjust="spacingAndGlyphs">22</text>
<text x="1477.0" y="751.2" font-size="12.5" fill="#363a45" textLength="12.7" lengthAdjust="spacingAndGlyphs">24</text>
<circle cx="28.4" cy="704" r="16.5" fill="#fff" stroke="#dfe2ec" stroke-width="1.3"/>
<g transform="translate(18,696.7) scale(0.6)" fill="#131722"><path d="M15 22H8.6V10.4H0V4h15v18z"/><circle cx="19.8" cy="7.3" r="3.5"/><path d="M28 22h-8l7.5-18h8L28 22z"/></g>
<g transform="translate(1595.1,747.9)" fill="none" stroke="#131722" stroke-width="1.15"><path d="M-3.5 -5.8h7l3.3 5.8-3.3 5.8h-7l-3.3-5.8z" stroke-linejoin="round"/><circle r="1.6"/></g>
</svg>
</body></html>
